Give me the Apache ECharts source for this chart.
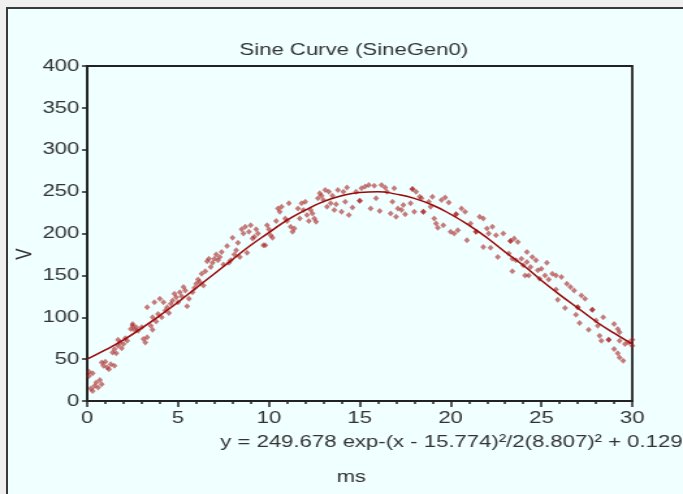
<!DOCTYPE html>
<html>
<head>
<meta charset="utf-8">
<script src="https://cdn.jsdelivr.net/npm/echarts@6/dist/echarts.min.js"></script>
<style>
  html, body { margin: 0; padding: 0; background: #f0f0f0; overflow: hidden; }
  #panel { position: absolute; left: 6px; top: 7px; width: 700px; height: 500px; border: 2px solid #3a3a3a; background: #f0ffff; }
  /* the reference is stretched sideways, so the chart is drawn narrow and widened */
  #chart { position: absolute; left: 0; top: 0; width: 525px; height: 494px; transform: scaleX(1.30095); transform-origin: 0 0; }
</style>
</head>
<body>
<div id="panel"></div>
<div id="chart"></div>
<script>
// Data
const titleText = 'Sine Curve (SineGen0)';
const xName = 'ms';
const yName = 'V';
const fitText = 'y = 249.678 exp-(x - 15.774)\u00b2/2(8.807)\u00b2 + 0.129';

// fitted curve, read at each ms
const fitX = [0, 1, 2, 3, 4, 5, 6, 7, 8, 9, 10, 11, 12, 13, 14, 15, 16, 17, 18, 19, 20, 21, 22, 23, 24, 25, 26, 27, 28, 29, 30];
const fitY = [50, 61, 73, 87, 102, 118, 135, 152, 169, 186, 201, 216, 228, 238, 245, 249, 250, 247, 242, 234, 223, 210, 195, 178, 162, 144, 127, 111, 95, 81, 68];

// sampled points [ms, V]
const samples = [
  [0.1, 35], [0.1, 30], [0.2, 15], [0.3, 12], [0.4, 18], [0.5, 22], [0.6, 16], [0.7, 25], [0.8, 20], [0.3, 33], [0.9, 42], [1.0, 47], [1.1, 40], [0.8, 46],
  [1.2, 38], [1.3, 44], [1.5, 42], [1.4, 58], [1.5, 62], [1.6, 57], [1.7, 66], [1.8, 70], [1.9, 63], [2.0, 68], [1.7, 73], [2.1, 75], [2.2, 72],
  [2.4, 86], [2.5, 90], [2.6, 85], [2.7, 88], [2.8, 84], [2.5, 92], [3.0, 88], [3.1, 74], [3.2, 70], [3.3, 76],
  [3.3, 112], [3.5, 90], [3.6, 85], [3.6, 100], [3.7, 118], [3.8, 95], [3.9, 104], [4.0, 122], [4.1, 100], [4.2, 118],
  [4.3, 108], [4.4, 112], [4.5, 105], [4.6, 116], [4.7, 120], [4.8, 128], [4.9, 124], [5.0, 118], [5.1, 130], [5.2, 125], [5.3, 136], [5.4, 132],
  [5.5, 113], [5.6, 122], [5.8, 130], [5.9, 135], [6.0, 140], [6.1, 145], [6.2, 142], [6.3, 152], [6.4, 138], [6.5, 155],
  [6.6, 167], [6.7, 170], [6.8, 160], [6.9, 165], [7.0, 170], [7.1, 175], [7.2, 168], [7.3, 172], [7.4, 178], [7.5, 163],
  [7.7, 185], [7.8, 165], [7.9, 168], [8.0, 195], [8.1, 175], [8.2, 180], [8.3, 189], [8.4, 172],
  [8.5, 205], [8.6, 200], [8.7, 208], [8.8, 177], [8.9, 202], [9.0, 210], [9.1, 194], [9.2, 196], [9.3, 205], [9.4, 200],
  [9.7, 186], [9.8, 186], [9.9, 210], [10.0, 205], [10.1, 198], [10.2, 195], [10.4, 215],
  [10.5, 230], [10.6, 226], [10.7, 232], [10.9, 218], [11.0, 215], [11.1, 236], [11.2, 208], [11.3, 202], [11.4, 206], [11.6, 230],
  [11.7, 218], [11.8, 236], [11.9, 228], [12.0, 238], [12.1, 222], [12.2, 215], [12.3, 228], [12.4, 224], [12.5, 218], [12.6, 214],
  [12.7, 242], [12.8, 248], [12.9, 245], [13.0, 240], [13.1, 252], [13.2, 232], [13.3, 250], [13.4, 236], [13.5, 245], [13.6, 228], [13.7, 235], [13.8, 252], [14.0, 226], [14.1, 250], [14.2, 238], [14.3, 255],
  [14.4, 222], [14.6, 231], [14.8, 250], [15.0, 239], [15.0, 239], [15.1, 254], [15.3, 256], [15.5, 258], [15.6, 230], [15.8, 257], [15.9, 242], [16.1, 227], [16.2, 258], [16.4, 255],
  [16.5, 250], [16.7, 224], [16.8, 238], [16.9, 254], [17.0, 220], [17.1, 230], [17.3, 228], [17.4, 234], [17.5, 223], [17.8, 236], [17.9, 253], [17.9, 253], [18.0, 226],
  [18.1, 250], [18.3, 244], [18.4, 242], [18.5, 226], [18.5, 226], [18.8, 238], [18.9, 232], [19.0, 244], [19.1, 218], [19.2, 212], [19.3, 207],
  [19.5, 240], [19.7, 243], [19.9, 237], [19.6, 210], [20.0, 202], [20.2, 200], [20.3, 223], [20.3, 223], [20.4, 204], [20.6, 230], [20.8, 226], [20.9, 192],
  [21.1, 212], [21.4, 202], [21.4, 202], [21.6, 220], [21.8, 218], [21.8, 184], [22.0, 206], [22.1, 200], [22.2, 183], [22.3, 208], [22.5, 198], [22.6, 172],
  [22.9, 200], [23.3, 191], [23.3, 191], [23.5, 194], [23.7, 190], [23.2, 176], [23.4, 170], [23.6, 168], [23.4, 155], [23.9, 170], [24.0, 162], [24.2, 166], [24.4, 160], [24.1, 150],
  [24.2, 178], [24.5, 172], [24.7, 168], [24.3, 150], [24.8, 156], [24.9, 146], [25.0, 158], [25.3, 165], [25.2, 150], [25.4, 145], [25.6, 152],
  [25.8, 150], [26.1, 148], [25.8, 133], [25.9, 121], [26.4, 140], [26.6, 136], [26.8, 132], [26.3, 111], [26.9, 103], [27.0, 112], [27.0, 112],
  [27.2, 126], [27.4, 122], [27.8, 109], [27.8, 109], [27.1, 93], [27.6, 85], [28.0, 96], [28.1, 90], [28.4, 100], [28.2, 78], [28.3, 72],
  [28.7, 73], [28.7, 73], [29.0, 92], [29.2, 86], [29.3, 82], [29.0, 62], [29.2, 57], [29.3, 52], [29.5, 48], [29.3, 72], [29.6, 68], [29.8, 70], [30.0, 73], [30.0, 66]
];

const textColor = '#333';
const font = '"Liberation Sans", Arial, sans-serif';

const chart = echarts.init(document.getElementById('chart'));

const fitData = fitX.map((x, i) => [x, fitY[i]]);

const option = {
  backgroundColor: 'transparent',
  animation: false,
  title: {
    text: titleText,
    left: 267,
    top: 37,
    textAlign: 'center',
    textStyle: { color: textColor, fontSize: 17, fontWeight: 'normal', fontFamily: font }
  },
  grid: {
    left: 67,
    right: 39,
    top: 66,
    bottom: 93,
    show: true,
    borderColor: '#222',
    borderWidth: 1.8,
    backgroundColor: 'transparent'
  },
  xAxis: {
    type: 'value',
    min: 0,
    max: 30,
    interval: 5,
    axisLine: { show: true, onZero: false, lineStyle: { color: '#222', width: 1.8 } },
    axisTick: { show: true, inside: false, length: 6, lineStyle: { color: '#222', width: 1.5 } },
    minorTick: { show: true, splitNumber: 5, length: 3, lineStyle: { color: '#222', width: 1.5 } },
    splitLine: { show: false },
    axisLabel: { color: textColor, fontSize: 17, fontFamily: font, margin: 9 }
  },
  yAxis: {
    type: 'value',
    min: 0,
    max: 400,
    interval: 50,
    axisLine: { show: true, onZero: false, lineStyle: { color: '#222', width: 1.8 } },
    axisTick: { show: true, inside: false, length: 4, lineStyle: { color: '#222', width: 1.5 } },
    splitLine: { show: false },
    axisLabel: { color: textColor, fontSize: 17, fontFamily: font, margin: 6, padding: [5, 0, 0, 0] }
  },
  graphic: [
    {
      type: 'text', x: 19, y: 254, rotation: Math.PI / 2,
      style: { text: yName, fill: textColor, font: '17px ' + font, textAlign: 'center', textVerticalAlign: 'middle' }
    },
    {
      type: 'text', x: 347, y: 442,
      style: { text: fitText, fill: textColor, font: '17px ' + font, textAlign: 'center', textVerticalAlign: 'middle' }
    },
    {
      type: 'text', x: 270, y: 477,
      style: { text: xName, fill: textColor, font: '17px ' + font, textAlign: 'center', textVerticalAlign: 'middle' }
    }
  ],
  series: [
    {
      type: 'scatter',
      data: samples,
      symbol: 'diamond',
      symbolSize: [4.6, 6],
      itemStyle: { color: 'rgba(165, 25, 25, 0.72)' },
      silent: true
    },
    {
      type: 'line',
      data: fitData,
      smooth: true,
      symbol: 'none',
      lineStyle: { color: '#9a0808', width: 1.5 },
      silent: true
    }
  ]
};

chart.setOption(option);
</script>
</body>
</html>
